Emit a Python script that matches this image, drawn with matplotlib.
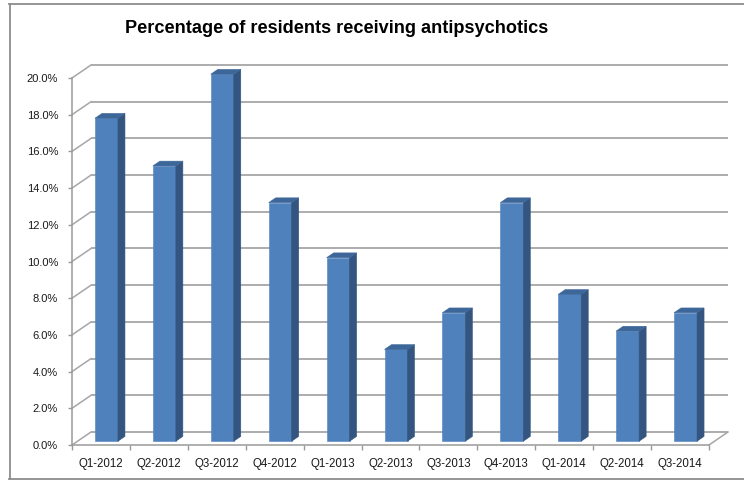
import matplotlib
matplotlib.use('Agg')
import matplotlib.pyplot as plt
from matplotlib.patches import Polygon
from matplotlib.lines import Line2D
import numpy as np

categories = ['Q1-2012', 'Q2-2012', 'Q3-2012', 'Q4-2012', 'Q1-2013', 'Q2-2013',
              'Q3-2013', 'Q4-2013', 'Q1-2014', 'Q2-2014', 'Q3-2014']
values = [17.6, 15.0, 20.0, 13.0, 10.0, 5.0, 7.0, 13.0, 8.0, 6.0, 7.0]
y_ticks = [0, 2, 4, 6, 8, 10, 12, 14, 16, 18, 20]
y_tick_labels = ['%.1f%%' % v for v in y_ticks]
title = 'Percentage of residents receiving antipsychotics'

plt.rcParams['font.family'] = ['Liberation Sans', 'DejaVu Sans']

W, H, DPI = 744, 483, 100
fig = plt.figure(figsize=(W / DPI, H / DPI), dpi=DPI)

# front plane of the 3-D box, in pixels
L, R, B, T = 72, 709, 445, 78
ax = fig.add_axes([L / W, 1 - B / H, (R - L) / W, (B - T) / H])
n = len(categories)
ax.set_xlim(0, n)
ax.set_ylim(0, y_ticks[-1])
ax.patch.set_visible(False)

p0 = ax.transData.transform((0, 0))
p1 = ax.transData.transform((1, 1))
sx, sy = p1[0] - p0[0], p1[1] - p0[1]

# depth offsets (pixels -> data units)
wall_dx, wall_dy = 19 / sx, 13 / sy      # back wall
bar_dx, bar_dy = 5.5 / sx, 3.8 / sy      # bar front plane
dep_dx, dep_dy = 7 / sx, 4.8 / sy        # bar depth
bw = 23 / sx

grid_c = '#a6a6a6'
axis_c = '#9a9a9a'

# back wall gridlines and left wall diagonals
for v in y_ticks:
    ax.plot([wall_dx, n + wall_dx], [v + wall_dy, v + wall_dy], color=grid_c,
            lw=1.3, clip_on=False, zorder=1, solid_capstyle='butt')
    ax.plot([0, wall_dx], [v, v + wall_dy], color=grid_c, lw=1.1,
            clip_on=False, zorder=1)
# floor right edge
ax.plot([n, n + wall_dx], [0, wall_dy], color=grid_c, lw=1.1, clip_on=False, zorder=1)

front_c = '#4f81bd'
side_c = '#33557f'
top_c = '#3d6699'

centers = np.arange(n) + 0.5
ax.bar(centers + bar_dx, values, width=bw, bottom=bar_dy, color=front_c,
       edgecolor=front_c, lw=0.4, clip_on=False, zorder=3)
for c, v in zip(centers, values):
    xl = c + bar_dx - bw / 2
    xr = c + bar_dx + bw / 2
    yb = bar_dy
    yt = v + bar_dy
    side = Polygon([(xr, yb), (xr, yt), (xr + dep_dx, yt + dep_dy), (xr + dep_dx, yb + dep_dy)],
                   closed=True, facecolor=side_c, edgecolor=side_c, lw=0.4,
                   clip_on=False, zorder=3)
    top = Polygon([(xl, yt), (xr, yt), (xr + dep_dx, yt + dep_dy), (xl + dep_dx, yt + dep_dy)],
                  closed=True, facecolor=top_c, edgecolor=top_c, lw=0.4,
                  clip_on=False, zorder=3)
    ax.add_patch(side)
    ax.add_patch(top)

# spines and ticks
for s in ['top', 'right']:
    ax.spines[s].set_visible(False)
for s in ['left', 'bottom']:
    ax.spines[s].set_color(axis_c)
    ax.spines[s].set_linewidth(1.1)
    ax.spines[s].set_zorder(2)

ax.set_yticks(y_ticks)
ax.set_yticklabels(y_tick_labels)
ax.tick_params(axis='y', direction='out', length=3, color=axis_c, width=1.0,
               pad=7, labelsize=8, labelcolor='#1a1a1a')

ax.set_xticks(np.arange(n + 1))
ax.set_xticklabels([])
ax.set_xticks(centers, minor=True)
ax.set_xticklabels(categories, minor=True)
ax.tick_params(axis='x', which='major', direction='out', length=3.6, color=axis_c, width=1.0)
ax.tick_params(axis='x', which='minor', length=0, pad=9, labelsize=8.3, labelcolor='#1a1a1a')

# outer chart border (right side cropped)
bc = '#8c8c8c'
fig.add_artist(Line2D([9.5 / W, 9.5 / W], [1 - 4 / H, 1 - 479 / H], transform=fig.transFigure, color=bc, lw=1.3))
fig.add_artist(Line2D([9 / W, 1], [1 - 4 / H, 1 - 4 / H], transform=fig.transFigure, color=bc, lw=1.3))
fig.add_artist(Line2D([9 / W, 1], [1 - 479 / H, 1 - 479 / H], transform=fig.transFigure, color=bc, lw=1.3))

# title fitted to reference width
t = fig.text(337 / W, 1 - 33 / H, title, ha='center', va='baseline',
             fontweight='bold', fontsize=12, color='#000000')
r = fig.canvas.get_renderer()
wpx = t.get_window_extent(r).width
t.set_fontsize(12 * 419 / wpx)

fig.savefig('out.png', dpi=DPI)
